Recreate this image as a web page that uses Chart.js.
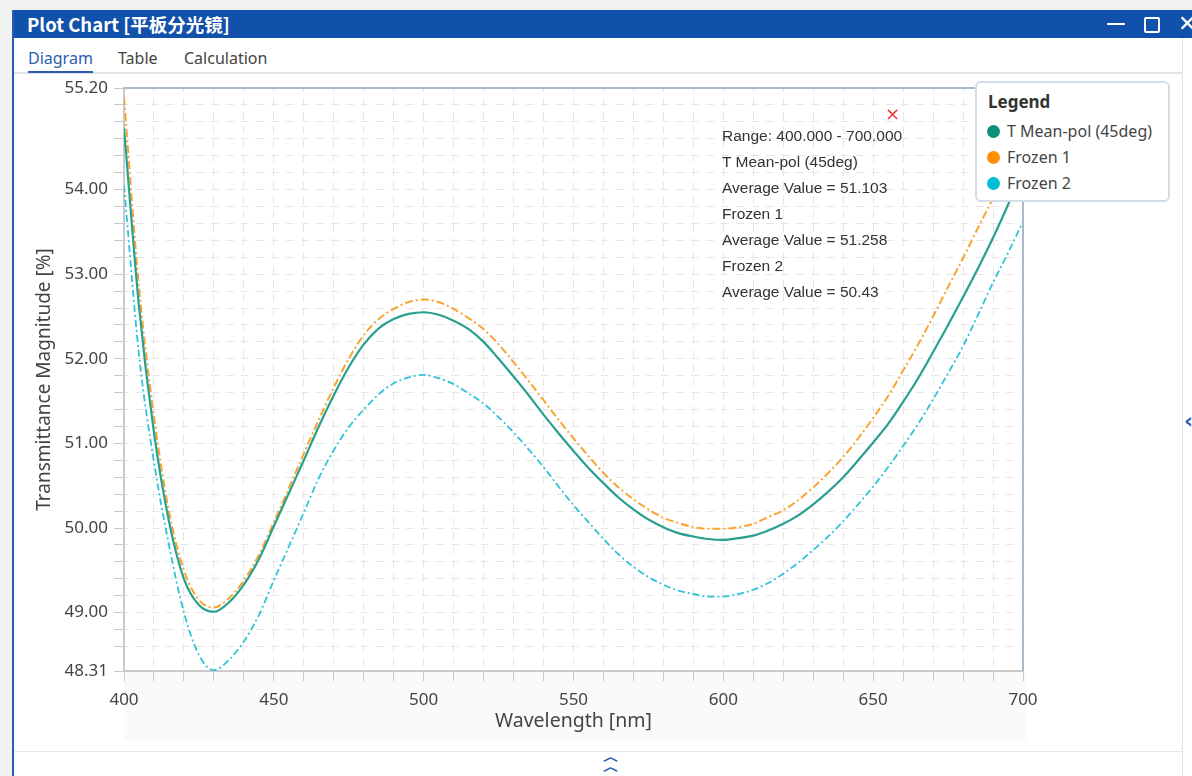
<!DOCTYPE html>
<html>
<head>
<meta charset="utf-8">
<script src="https://cdn.jsdelivr.net/npm/chart.js@4.4.0/dist/chart.umd.min.js"></script>
<style>
  html, body { margin: 0; padding: 0; width: 1192px; height: 776px; overflow: hidden; background: #f2f2f2; font-family: "Noto Sans", sans-serif; }
  #win { position: absolute; left: 12px; top: 10px; width: 1180px; height: 766px; background: #fff; border-left: 2px solid #2a5db0; }
  #titlebar { position: absolute; left: 0; top: 0; width: 1180px; height: 28px; background: #1150ab; color: #fff; font: bold 18.5px "Noto Sans CJK SC", sans-serif; line-height: 28px; }
  #titlebar span.t { position: absolute; left: 13px; top: 0; }
  .tab { position: absolute; top: 37px; font-size: 16px; color: #444; }
  #panelbg2 { position: absolute; left: 124px; top: 671px; width: 902px; height: 70px; background: #fafafa; }
  #wrap { position: absolute; left: 20px; top: 70px; width: 1030px; height: 680px; }
  #note { position: absolute; left: 722px; top: 123px; font: 15.5px "Liberation Sans", Arial, sans-serif; color: #333; line-height: 26px; }
  #legend { position: absolute; left: 975px; top: 81px; width: 195px; height: 121px; background: #fff; border: 2px solid #d3dde8; border-radius: 6px; box-sizing: border-box; }
  #legend .ttl { position: absolute; left: 11px; top: 7px; font-weight: bold; font-size: 17px; color: #333; }
  #legend .item { position: absolute; left: 10px; font-size: 16px; color: #444; white-space: nowrap; }
  #legend .dot { display: inline-block; width: 13px; height: 13px; border-radius: 50%; vertical-align: -1px; margin-right: 7px; }
</style>
</head>
<body>
<div id="win">
  <div id="titlebar"><span class="t">Plot Chart [平板分光镜]</span>
    <div style="position:absolute;left:1093px;top:13px;width:18px;height:2px;background:#fff"></div>
    <div style="position:absolute;left:1130px;top:7px;width:12px;height:12px;border:2px solid #fff;border-radius:2px"></div>
    <div style="position:absolute;left:1164px;top:0;font:bold 22px 'DejaVu Sans';line-height:28px">✕</div>
  </div>
  <div class="tab" style="left:14px;color:#2a5db0">Diagram</div>
  <div style="position:absolute;left:0;top:62px;width:1168px;height:2px;background:#e2e2e2"></div>
  <div style="position:absolute;left:14px;top:61px;width:65px;height:2px;background:#2a5db0"></div>
  <div class="tab" style="left:104px">Table</div>
  <div class="tab" style="left:170px">Calculation</div>
  <div style="position:absolute;left:1168px;top:28px;width:1px;height:738px;background:#e6e6e6"></div>
  <div style="position:absolute;left:1170px;top:398px;color:#2a5db0;font:bold 22px 'DejaVu Sans'">‹</div>
  <div style="position:absolute;left:0;top:741px;width:1168px;height:1px;background:#e6e6e6"></div>
  <div style="position:absolute;left:589px;top:742px;color:#2a5db0;font:bold 16px 'DejaVu Sans';line-height:10px;text-align:center">︿<br>︿</div>
</div>
<div id="panelbg2"></div>
<div id="wrap"><canvas id="myChart" width="1030" height="680"></canvas></div>
<div id="note">
  <div style="position:absolute;left:163px;top:-20px;color:#e53935;font:18px 'DejaVu Sans'">×</div>
  Range: 400.000 - 700.000<br>T Mean-pol (45deg)<br>Average Value = 51.103<br>Frozen 1<br>Average Value = 51.258<br>Frozen 2<br>Average Value = 50.43
</div>
<div id="legend"><div class="ttl">Legend</div></div>
<script>
const wavelengths = [
  400, 405, 410, 415, 420, 425, 430, 435, 440, 445, 450, 455, 460, 465, 470, 475, 480, 485, 490, 495,
  500, 505, 510, 515, 520, 525, 530, 535, 540, 545, 550, 555, 560, 565, 570, 575, 580, 585, 590, 595,
  600, 605, 610, 615, 620, 625, 630, 635, 640, 645, 650, 655, 660, 665, 670, 675, 680, 685, 690, 695, 700
];
const tMeanPol = [
  54.73, 52.62, 51.13, 50.08, 49.40, 49.09, 49.01, 49.12, 49.33, 49.63, 50.02, 50.41, 50.80, 51.20, 51.57, 51.90, 52.17, 52.36, 52.47, 52.53,
  52.55, 52.52, 52.45, 52.35, 52.20, 52.00, 51.79, 51.57, 51.34, 51.12, 50.91, 50.71, 50.53, 50.36, 50.22, 50.10, 50.01, 49.94, 49.90, 49.87,
  49.86, 49.88, 49.91, 49.97, 50.05, 50.15, 50.28, 50.43, 50.60, 50.80, 51.01, 51.23, 51.49, 51.77, 52.08, 52.40, 52.73, 53.07, 53.43, 53.82, 54.25
];
const frozen1 = [
  55.09, 52.85, 51.32, 50.20, 49.50, 49.15, 49.06, 49.17, 49.38, 49.68, 50.07, 50.47, 50.88, 51.28, 51.66, 52.00, 52.28, 52.47, 52.59, 52.67,
  52.70, 52.67, 52.59, 52.48, 52.35, 52.17, 51.96, 51.74, 51.51, 51.28, 51.06, 50.85, 50.65, 50.48, 50.34, 50.22, 50.12, 50.06, 50.01, 49.99,
  49.99, 50.01, 50.05, 50.13, 50.21, 50.33, 50.48, 50.65, 50.84, 51.06, 51.30, 51.56, 51.86, 52.17, 52.50, 52.85, 53.19, 53.55, 53.90, 54.28, 54.66
];
const frozen2 = [
  54.05, 52.05, 50.78, 49.80, 49.00, 48.50, 48.32, 48.44, 48.66, 48.97, 49.38, 49.78, 50.18, 50.59, 50.92, 51.19, 51.40, 51.58, 51.71, 51.78,
  51.81, 51.77, 51.70, 51.59, 51.47, 51.31, 51.13, 50.93, 50.72, 50.49, 50.27, 50.07, 49.87, 49.69, 49.54, 49.42, 49.33, 49.26, 49.22, 49.19,
  49.19, 49.22, 49.27, 49.35, 49.46, 49.59, 49.74, 49.90, 50.08, 50.28, 50.49, 50.72, 50.97, 51.23, 51.52, 51.83, 52.15, 52.52, 52.90, 53.25, 53.62
];
const seriesNames = ["T Mean-pol (45deg)", "Frozen 1", "Frozen 2"];
const legendColors = ["#0e8f7e", "#ff8f00", "#00bcd4"];
const yLabelTicks = [48.31, 49, 50, 51, 52, 53, 54, 55.2];
const yMinorTicks = [48.6, 48.8, 49.2, 49.4, 49.6, 49.8, 50.2, 50.4, 50.6, 50.8, 51.2, 51.4, 51.6, 51.8,
  52.2, 52.4, 52.6, 52.8, 53.2, 53.4, 53.6, 53.8, 54.2, 54.4, 54.6, 54.8, 55.0];
const xLabelTicks = [400, 450, 500, 550, 600, 650, 700];

const pts = (vals) => wavelengths.map((w, i) => ({ x: w, y: vals[i] }));

// html legend
const lg = document.getElementById("legend");
seriesNames.forEach((n, i) => {
  const d = document.createElement("div");
  d.className = "item";
  d.style.top = (37 + i * 26) + "px";
  d.innerHTML = '<span class="dot" style="background:' + legendColors[i] + '"></span>' + n;
  lg.appendChild(d);
});

const frame = {
  id: "frame",
  beforeDraw(chart) {
    const { ctx, chartArea: a } = chart;
    ctx.save();
    ctx.fillStyle = "#fff";
    ctx.fillRect(a.left, a.top, a.right - a.left, a.bottom - a.top);
    ctx.restore();
  },
  afterDraw(chart) {
    const { ctx, chartArea: a } = chart;
    ctx.save();
    ctx.strokeStyle = "#a9b9ca";
    ctx.lineWidth = 2;
    ctx.beginPath();
    ctx.moveTo(a.left, a.top);
    ctx.lineTo(a.right, a.top);
    ctx.lineTo(a.right, a.bottom);
    ctx.stroke();
    ctx.restore();
  }
};

const ctx = document.getElementById("myChart").getContext("2d");
const font = { family: "Noto Sans", size: 17 };

new Chart(ctx, {
  type: "line",
  data: {
    datasets: [
      {
        label: seriesNames[0],
        data: pts(tMeanPol),
        borderColor: "#28a08f",
        borderWidth: 2.2,
      },
      {
        label: seriesNames[1],
        data: pts(frozen1),
        borderColor: "#f9a431",
        borderWidth: 2,
        borderDash: [8, 3, 2, 3],
      },
      {
        label: seriesNames[2],
        data: pts(frozen2),
        borderColor: "#2fc3da",
        borderWidth: 1.8,
        borderDash: [7, 3, 2, 3],
      },
    ],
  },
  options: {
    responsive: false,
    devicePixelRatio: 1,
    animation: false,
    layout: { padding: { top: 18, right: 27, left: 0, bottom: 0 } },
    elements: {
      point: { radius: 0 },
      line: { cubicInterpolationMode: "monotone", fill: false },
    },
    plugins: { legend: { display: false }, tooltip: { enabled: false } },
    scales: {
      x: {
        type: "linear",
        min: 400,
        max: 700,
        afterFit: (s) => { s.height = 79; },
        afterBuildTicks: (s) => {
          const t = [];
          for (let v = 400; v <= 700; v += 10) t.push({ value: v });
          s.ticks = t;
        },
        ticks: {
          autoSkip: false,
          maxRotation: 0,
          padding: 9,
          color: "#444",
          font: font,
          callback: (v) => (xLabelTicks.includes(v) ? String(v) : ""),
        },
        grid: {
          color: "#e6e6e6",
          tickColor: "#c8c8c8",
          tickLength: 10,
        },
        border: { color: "#cacaca", width: 2, dash: [8, 6], dashOffset: 4 },
        title: {
          display: true,
          text: "Wavelength [nm]",
          color: "#444",
          font: { family: "Noto Sans", size: 19.5 },
          padding: { bottom: 17 },
        },
      },
      y: {
        min: 48.31,
        max: 55.2,
        afterFit: (s) => { s.width = 104; },
        afterBuildTicks: (s) => {
          s.ticks = yLabelTicks.concat(yMinorTicks).sort((a, b) => a - b).map((v) => ({ value: v }));
        },
        ticks: {
          autoSkip: false,
          padding: 6,
          color: "#444",
          font: font,
          callback: (v) => (yLabelTicks.includes(v) ? v.toFixed(2) : ""),
        },
        grid: {
          color: "#e6e6e6",
          tickColor: "#c8c8c8",
          tickLength: 10,
        },
        border: { color: "#cacaca", width: 2, dash: [8, 7], dashOffset: 4 },
        title: {
          display: true,
          text: "Transmittance Magnitude [%]",
          color: "#444",
          font: { family: "Noto Sans", size: 19 },
          padding: { top: 13 },
        },
      },
    },
  },
  plugins: [frame],
});
</script>
</body>
</html>
